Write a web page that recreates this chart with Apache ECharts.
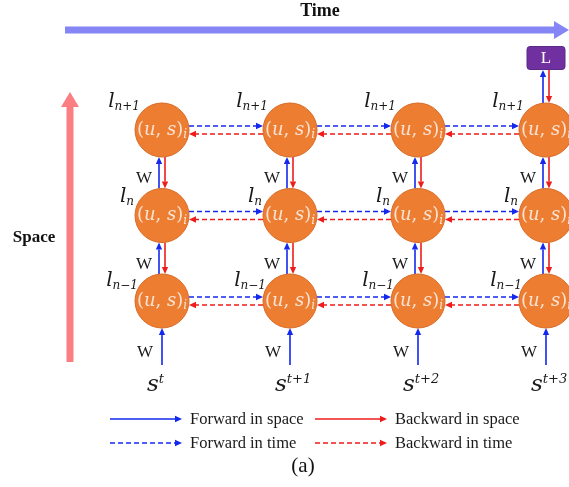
<!DOCTYPE html>
<html><head><meta charset="utf-8">
<script src="https://cdn.jsdelivr.net/npm/echarts@6.0.0/dist/echarts.min.js"></script>
<style>html,body{margin:0;padding:0;background:#fff}#c{width:569px;height:487px}</style>
</head><body><div id="c"></div>
<script>
// ---- data ----
const timeSteps = ['t', 't+1', 't+2', 't+3'];
const layers = ['n\u22121', 'n', 'n+1'];
const nodeVars = ['u', 's'];
const nodeIndex = 'i';
const weightLabel = 'W';
const lossLabel = 'L';
const inputSymbol = 's';
const layerSymbol = 'l';
const legendLabels = ['Forward in space', 'Backward in space', 'Forward in time', 'Backward in time'];
const timeTitle = 'Time';
const spaceTitle = 'Space';
const caption = '(a)';

// derived structures
const nodes = [];
timeSteps.forEach((t, c) => layers.forEach((l, r) => nodes.push([c, r])));
const timeLinks = [];
for (let c = 0; c < timeSteps.length - 1; c++) layers.forEach((l, r) => timeLinks.push([c, r, c + 1, r]));
const spaceLinks = [];
timeSteps.forEach((t, c) => { for (let r = 0; r < layers.length - 1; r++) spaceLinks.push([c, r, c, r + 1]); });
const inputs = timeSteps.map((t, c) => [c, 0]);
const outputs = [[timeSteps.length - 1, layers.length - 1]];

// ---- styles ----
const BLUE = '#1428EE', RED = '#EE1C1C';
const R = 27;
const SERIF = '"Liberation Serif", "DejaVu Serif", serif';
const MATH = '"DejaVu Serif", serif';

function arrow(x1, y1, x2, y2, color, dashed, head, w) {
  head = head || 7; w = w || 1.6;
  const dx = x2 - x1, dy = y2 - y1, len = Math.hypot(dx, dy), ux = dx / len, uy = dy / len;
  const bx = x2 - ux * head, by = y2 - uy * head;
  const px = -uy, py = ux, hw = head * 0.45;
  return [
    { type: 'line', shape: { x1: x1, y1: y1, x2: bx, y2: by },
      style: { stroke: color, lineWidth: w, lineDash: dashed ? [5, 3] : null, fill: null } },
    { type: 'polygon', shape: { points: [[x2, y2], [bx + px * hw, by + py * hw], [bx - px * hw, by - py * hw]] },
      style: { fill: color } }
  ];
}

const mathRich = {
  p: { fontFamily: MATH, fontSize: 18, lineHeight: 22, fill: '#FBE3D3' },
  v: { fontFamily: MATH, fontStyle: 'italic', fontSize: 18, lineHeight: 22, fill: '#FBE3D3' },
  sub: { fontFamily: MATH, fontStyle: 'italic', fontSize: 12, lineHeight: 10, verticalAlign: 'bottom', fill: '#FBE3D3' }
};
const layerRich = {
  l: { fontFamily: MATH, fontStyle: 'italic', fontSize: 20, lineHeight: 22, fill: '#1a1a1a' },
  sub: { fontFamily: MATH, fontStyle: 'italic', fontSize: 12, lineHeight: 8, verticalAlign: 'bottom', fill: '#1a1a1a' }
};
const inputRich = {
  s: { fontFamily: MATH, fontStyle: 'italic', fontSize: 23, lineHeight: 24, fill: '#1a1a1a' },
  sup: { fontFamily: MATH, fontStyle: 'italic', fontSize: 13, lineHeight: 8, verticalAlign: 'top', fill: '#1a1a1a' }
};
const LAYER_OFF = [[-24, -20], [-28, -19], [-22, -28]];

function wText(x, y) {
  return { type: 'text', x: x, y: y, style: { text: weightLabel, fontFamily: SERIF, fontSize: 17, fill: '#1a1a1a', align: 'center', verticalAlign: 'middle' } };
}

const chart = echarts.init(document.getElementById('c'), null, { renderer: 'canvas' });

const series = [
  { // nodes
    type: 'custom', coordinateSystem: 'cartesian2d', data: nodes, z: 3,
    renderItem: function (p, api) {
      const c = api.coord([api.value(0), api.value(1)]);
      const r = api.value(1);
      const off = LAYER_OFF[r];
      return { type: 'group', children: [
        { type: 'circle', shape: { cx: c[0], cy: c[1], r: R }, style: { fill: '#ED7D31', stroke: '#D96B27', lineWidth: 1 } },
        { type: 'text', x: c[0], y: c[1], style: {
          text: '{p|(}{v|' + nodeVars[0] + '}{p|, }{v|' + nodeVars[1] + '}{p|)}{sub|' + nodeIndex + '}',
          align: 'center', verticalAlign: 'middle', rich: mathRich } },
        { type: 'text', x: c[0] + off[0], y: c[1] + off[1], style: {
          text: '{l|' + layerSymbol + '}{sub|' + layers[r] + '}', align: 'right', verticalAlign: 'middle', rich: layerRich } }
      ]};
    }
  },
  { // time links (dashed)
    type: 'custom', coordinateSystem: 'cartesian2d', data: timeLinks, z: 2,
    renderItem: function (p, api) {
      const a = api.coord([api.value(0), api.value(1)]);
      const b = api.coord([api.value(2), api.value(3)]);
      return { type: 'group', children: [].concat(
        arrow(a[0] + R, a[1] - 4, b[0] - R, b[1] - 4, BLUE, true),
        arrow(b[0] - R, b[1] + 4, a[0] + R, a[1] + 4, RED, true)
      )};
    }
  },
  { // space links
    type: 'custom', coordinateSystem: 'cartesian2d', data: spaceLinks, z: 2,
    renderItem: function (p, api) {
      const a = api.coord([api.value(0), api.value(1)]);
      const b = api.coord([api.value(2), api.value(3)]);
      return { type: 'group', children: [].concat(
        arrow(a[0] - 3, a[1] - R, b[0] - 3, b[1] + R, BLUE, false),
        arrow(b[0] + 3, b[1] + R, a[0] + 3, a[1] - R, RED, false),
        [wText(a[0] - 18, (a[1] + b[1]) / 2 + 6)]
      )};
    }
  },
  { // inputs
    type: 'custom', coordinateSystem: 'cartesian2d', data: inputs, z: 2,
    renderItem: function (p, api) {
      const a = api.coord([api.value(0), api.value(1)]);
      const t = timeSteps[api.value(0)];
      return { type: 'group', children: [].concat(
        arrow(a[0], a[1] + R + 37, a[0], a[1] + R, BLUE, false),
        [wText(a[0] - 17, a[1] + 52),
         { type: 'text', x: a[0] - 15, y: a[1] + 84, style: {
           text: '{s|' + inputSymbol + '}{sup|' + t + '}', align: 'left', verticalAlign: 'middle', rich: inputRich } }]
      )};
    }
  },
  { // output / loss
    type: 'custom', coordinateSystem: 'cartesian2d', data: outputs, z: 2,
    renderItem: function (p, api) {
      const a = api.coord([api.value(0), api.value(1)]);
      const bx = a[0], by = a[1] - 72;
      return { type: 'group', children: [].concat(
        arrow(a[0] - 3, a[1] - R, a[0] - 3, by + 12, BLUE, false),
        arrow(a[0] + 3, by + 12, a[0] + 3, a[1] - R, RED, false),
        [{ type: 'rect', shape: { x: bx - 19, y: by - 11.5, width: 38, height: 23, r: 3 },
           style: { fill: '#7030A0', stroke: '#5A2A85', lineWidth: 1 } },
         { type: 'text', x: bx, y: by + 1, style: { text: lossLabel, fontFamily: SERIF, fontSize: 17, fill: '#ffffff', align: 'center', verticalAlign: 'middle' } }]
      )};
    }
  }
];

// legend graphics
const legendEls = [];
const legendSpec = [[110, 419, BLUE, false], [315, 419, RED, false], [110, 443, BLUE, true], [315, 443, RED, true]];
legendLabels.forEach(function (lab, i) {
  const s = legendSpec[i];
  arrow(s[0], s[1], s[0] + 72, s[1], s[2], s[3], 7, 1.3).forEach(function (e) { legendEls.push(e); });
  legendEls.push({ type: 'text', x: s[0] + 80, y: s[1] + 1, style: { text: lab, fontFamily: SERIF, fontSize: 16.5, fill: '#1a1a1a', align: 'left', verticalAlign: 'middle' } });
});

const graphic = [].concat(
  [{ type: 'line', shape: { x1: 65, y1: 30, x2: 556, y2: 30 }, style: { stroke: '#8585F5', lineWidth: 7 } },
   { type: 'polygon', shape: { points: [[554, 21], [569, 30], [554, 39]] }, style: { fill: '#8585F5' } },
   { type: 'text', x: 320, y: 11, style: { text: timeTitle, fontFamily: SERIF, fontWeight: 'bold', fontSize: 18, fill: '#111', align: 'center', verticalAlign: 'middle' } },
   { type: 'line', shape: { x1: 70, y1: 362, x2: 70, y2: 105 }, style: { stroke: '#FB7E82', lineWidth: 7 } },
   { type: 'polygon', shape: { points: [[61, 107], [70, 92], [79, 107]] }, style: { fill: '#FB7E82' } },
   { type: 'text', x: 34, y: 238, style: { text: spaceTitle, fontFamily: SERIF, fontWeight: 'bold', fontSize: 17, fill: '#111', align: 'center', verticalAlign: 'middle' } },
   { type: 'text', x: 303, y: 466, style: { text: caption, fontFamily: SERIF, fontSize: 21, fill: '#111', align: 'center', verticalAlign: 'middle' } }],
  legendEls
);

// axes: column c at px 162 + 128c; row r at py 301 - 85.5r
const X0 = 162, XU = 128, Y0 = 301, YU = 85.5, W = 569, H = 487;
chart.setOption({
  animation: false,
  backgroundColor: '#ffffff',
  grid: { left: 0, right: 0, top: 0, bottom: 0 },
  xAxis: { type: 'value', min: -X0 / XU, max: (W - X0) / XU, show: false },
  yAxis: { type: 'value', min: (Y0 - H) / YU, max: Y0 / YU, show: false },
  graphic: graphic,
  series: series
});
</script></body></html>
